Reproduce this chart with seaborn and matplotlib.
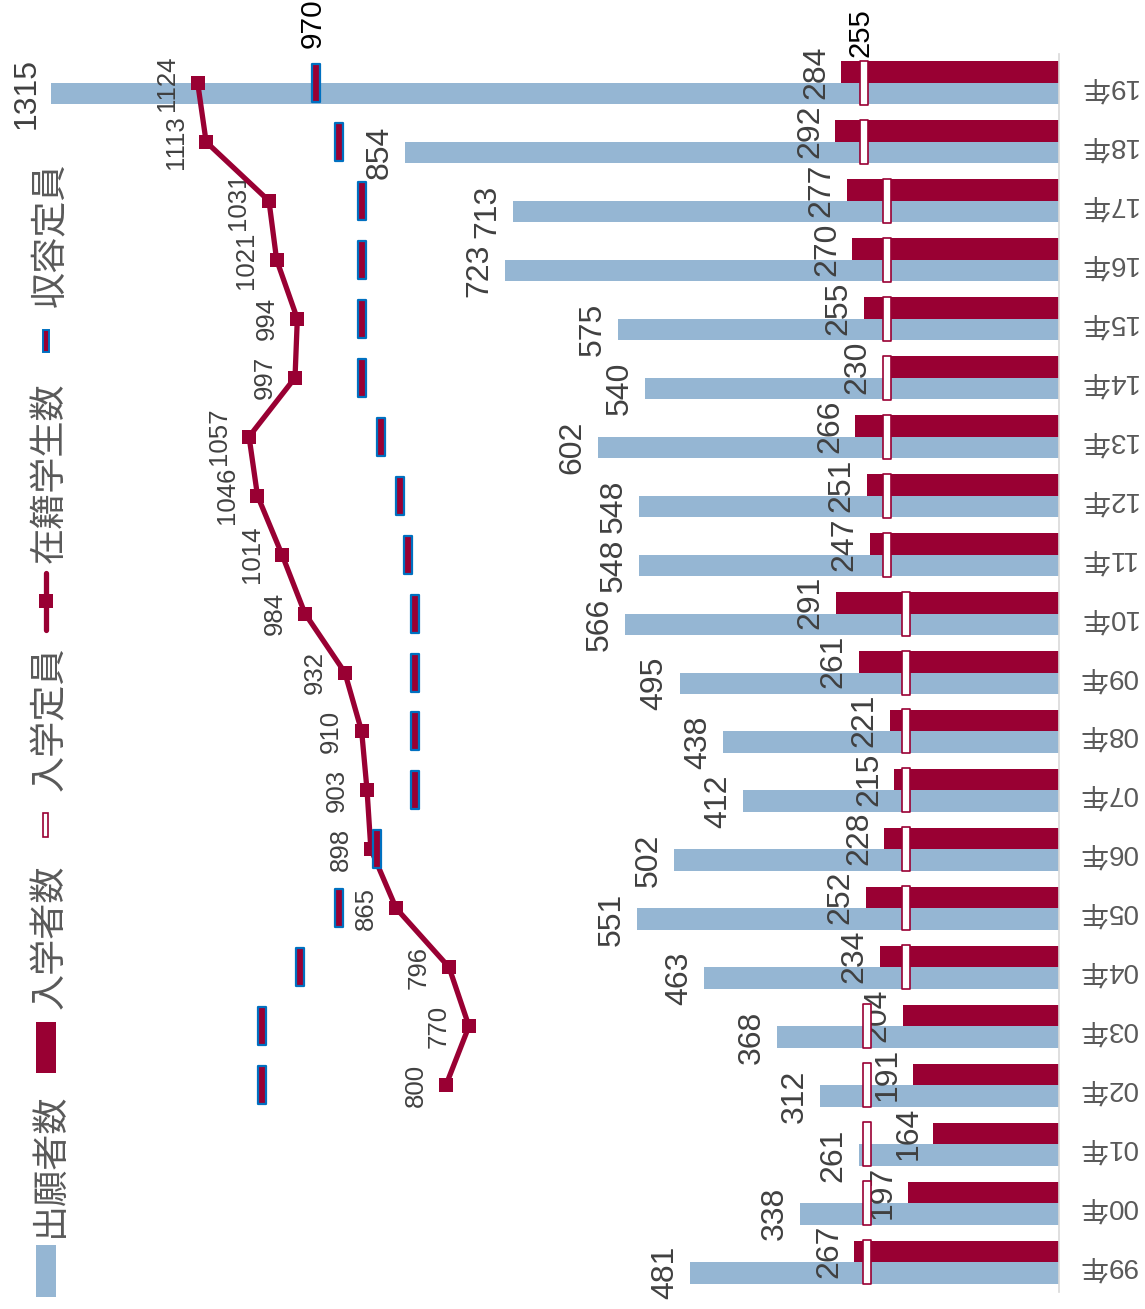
import numpy as np
import pandas as pd
import matplotlib
matplotlib.use("Agg")
import matplotlib.pyplot as plt
from matplotlib.path import Path
from matplotlib.markers import MarkerStyle
from matplotlib.patches import Rectangle
from matplotlib.lines import Line2D
import seaborn as sns

# ---- data (chronological) ----
years = ['99年', '00年', '01年', '02年', '03年', '04年', '05年', '06年', '07年', '08年', '09年',
         '10年', '11年', '12年', '13年', '14年', '15年', '16年', '17年', '18年', '19年']
applicants = [481, 338, 261, 312, 368, 463, 551, 502, 412, 438, 495,
              566, 548, 548, 602, 540, 575, 723, 713, 854, 1315]
entrants = [267, 197, 164, 191, 204, 234, 252, 228, 215, 221, 261,
            291, 247, 251, 266, 230, 255, 270, 277, 292, 284]
admission_quota = [250, 250, 250, 250, 250, 200, 200, 200, 200, 200, 200,
                   200, 225, 225, 225, 225, 225, 225, 225, 255, 255]
enrolled = [np.nan, np.nan, np.nan, 800, 770, 796, 865, 898, 903, 910, 932,
            984, 1014, 1046, 1057, 997, 994, 1021, 1031, 1113, 1124]
total_capacity = [np.nan, np.nan, np.nan, 1040, 1040, 990, 940, 890, 840, 840, 840,
                  840, 850, 860, 885, 910, 910, 910, 910, 940, 970]

series_names = ['出願者数', '入学者数', '入学定員', '在籍学生数', '収容定員']

BLUE = '#95B6D3'
RED = '#990033'
EDGE_BLUE = '#0070C0'
LABEL = '#404040'
AXIS_TXT = '#595959'

W, H = 1145, 1309
sns.set_theme(style='white')
plt.rcParams['font.family'] = ['Liberation Sans', 'Noto Sans CJK JP', 'DejaVu Sans']

fig = plt.figure(figsize=(W / 100, H / 100), dpi=100)
ax = fig.add_axes([0, 1 - 1291.5 / H, 1059 / W, (1291.5 - 53.5) / H])

order = years[::-1]                      # newest at the top
pos = {y: i for i, y in enumerate(order)}
ypos = np.array([pos[y] for y in years], dtype=float)

df = pd.DataFrame({
    'year': years * 2,
    'value': applicants + entrants,
    'series': [series_names[0]] * len(years) + [series_names[1]] * len(years),
})

sns.barplot(data=df, x='value', y='year', hue='series', order=order,
            hue_order=[series_names[1], series_names[0]],
            palette={series_names[0]: BLUE, series_names[1]: RED},
            width=0.73, saturation=1, linewidth=0, legend=False, orient='h', ax=ax)

half = 0.73 / 4

# admission quota: white bars with red outline spanning both columns
tall_rect = Path([(-0.1, -0.5), (0.1, -0.5), (0.1, 0.5), (-0.1, 0.5), (-0.1, -0.5)],
                 [Path.MOVETO, Path.LINETO, Path.LINETO, Path.LINETO, Path.CLOSEPOLY])
ax.plot(admission_quota, ypos, linestyle='none', marker=MarkerStyle(tall_rect),
        markersize=31, markerfacecolor='white', markeredgecolor=RED,
        markeredgewidth=1.2, zorder=4)

# enrolled students line
sns.lineplot(x=enrolled, y=ypos, sort=False, orient='y', color=RED, linewidth=3.8,
             marker='s', markersize=9.8, markeredgewidth=0, ax=ax, zorder=5)

# total capacity markers
ax.plot(total_capacity, ypos, linestyle='none', marker=MarkerStyle(tall_rect),
        markersize=28, markerfacecolor=RED, markeredgecolor=EDGE_BLUE,
        markeredgewidth=1.6, zorder=6)

# value labels
for v, y in zip(applicants, ypos):
    ax.annotate(str(v), xy=(v, y + half), xytext=(-7.3, 0), textcoords='offset points',
                rotation=90, ha='right', va='center', fontsize=23, color=LABEL)
for v, y in zip(entrants, ypos):
    ax.annotate(str(v), xy=(v, y - half), xytext=(-7.3, 0), textcoords='offset points',
                rotation=90, ha='right', va='center', fontsize=23, color=LABEL)
for v, y in zip(enrolled, ypos):
    if np.isnan(v):
        continue
    ax.annotate(str(int(v)), xy=(v, y), xytext=(-13.3, 0), textcoords='offset points',
                rotation=90, ha='right', va='center', fontsize=18.5, color=LABEL)

last = len(years) - 1
ax.annotate(str(int(total_capacity[last])), xy=(total_capacity[last], ypos[last]),
            xytext=(-2, 25), textcoords='offset points', rotation=90,
            ha='center', va='bottom', fontsize=21.5, color='black')
ax.annotate(str(admission_quota[last]), xy=(admission_quota[last], ypos[last]),
            xytext=(-2, 19), textcoords='offset points', rotation=90,
            ha='center', va='bottom', fontsize=21, color='black')

# axes styling
ax.set_xlim(1382, 0)
ax.set_ylim(len(order) - 0.5, -0.5)
ax.set_xlabel('')
ax.set_ylabel('')
ax.set_xticks([])
ax.yaxis.tick_right()
ax.tick_params(axis='y', length=0, pad=14, labelsize=20, labelcolor=AXIS_TXT,
               labelrotation=180)
for s in ['left', 'top', 'bottom']:
    ax.spines[s].set_visible(False)
ax.spines['right'].set_color('#D9D9D9')
ax.spines['right'].set_linewidth(1.2)

# legend, laid out along the left edge
def fx(px):
    return px / W

def fy(py):
    return 1 - py / H

fig.add_artist(Rectangle((fx(36), fy(1297)), 20 / W, 52 / H, facecolor=BLUE,
                         edgecolor='none', transform=fig.transFigure))
fig.add_artist(Rectangle((fx(36), fy(1073)), 20 / W, 51 / H, facecolor=RED,
                         edgecolor='none', transform=fig.transFigure))
fig.add_artist(Rectangle((fx(43), fy(837)), 5 / W, 24 / H, facecolor='white',
                         edgecolor=RED, linewidth=1.2, transform=fig.transFigure))
fig.add_artist(Line2D([fx(46), fx(46)], [fy(573), fy(630)], color=RED, linewidth=3.8,
                      solid_capstyle='round', transform=fig.transFigure))
fig.add_artist(Line2D([fx(46)], [fy(601)], color=RED, marker='s', markersize=9.8,
                      markeredgewidth=0, transform=fig.transFigure))
fig.add_artist(Rectangle((fx(42.5), fy(352)), 6 / W, 22 / H, facecolor=RED,
                         edgecolor=EDGE_BLUE, linewidth=1.4, transform=fig.transFigure))

for name, cy in zip(series_names, [1165, 937, 719, 473, 235]):
    fig.text(fx(50), fy(cy), name, rotation=90, ha='center', va='center',
             fontsize=26, color=AXIS_TXT, family=['Noto Sans CJK JP', 'DejaVu Sans'])

fig.savefig('out.png', dpi=100)
